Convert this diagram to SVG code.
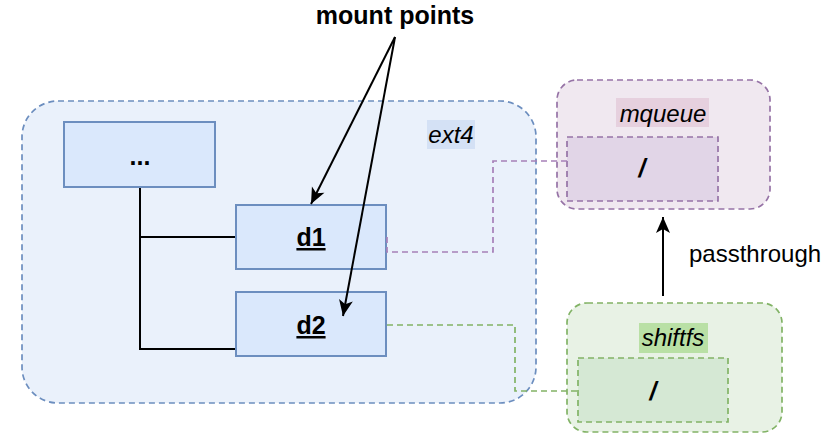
<svg xmlns="http://www.w3.org/2000/svg" width="833" height="435" viewBox="0 0 833 435">
<defs>
<marker id="arr" viewBox="0 0 20 20" refX="18" refY="10" markerWidth="20" markerHeight="20" markerUnits="userSpaceOnUse" orient="auto">
<path d="M2,3 L18,10 L2,17 L6,10 Z" fill="#000"/>
</marker>
</defs>
<style>
text{font-family:"Liberation Sans",Arial,sans-serif;font-size:24px;fill:#000}
.b{font-weight:bold;font-size:25px}
.i{font-style:italic}
.dash{stroke-dasharray:6 4;stroke-width:1.7}
.blue{fill:#dae8fc;stroke:#6c8ebf;stroke-width:2}
.tree{fill:none;stroke:#000;stroke-width:2}
.conn{fill:none;stroke-width:1.7;stroke-dasharray:6 4}
.arrow{fill:none;stroke:#000;stroke-width:2}
</style>
<rect width="833" height="435" fill="#fff"/>

<g id="ext4">
<rect x="22" y="101" width="514" height="302" rx="36" fill="#eaf1fb" stroke="#6c8ebf" class="dash"/>
<rect x="427" y="120" width="48" height="29" fill="#d4e1f5"/>
<text x="451" y="143" text-anchor="middle" class="i">ext4</text>
</g>

<g id="mqueue">
<rect x="557" y="80" width="213" height="129" rx="20" fill="#f0e8f0" stroke="#9673a6" class="dash"/>
<rect x="616" y="98" width="93" height="29" fill="#e6d0de"/>
<text x="663" y="122" text-anchor="middle" class="i" font-size="25">mqueue</text>
</g>
<g id="mqueue-root">
<rect x="567" y="137" width="151" height="64" fill="#e1d5e7" stroke="#9673a6" class="dash"/>
<text x="642" y="177" text-anchor="middle" class="i b">/</text>
</g>

<g id="shiftfs">
<rect x="567" y="303" width="215" height="129" rx="20" fill="#e8f2e5" stroke="#82b366" class="dash"/>
<rect x="639" y="323" width="69" height="30" fill="#b9e0a5"/>
<text x="673" y="346" text-anchor="middle" class="i">shiftfs</text>
</g>
<g id="shiftfs-root">
<rect x="578" y="358" width="150" height="64" fill="#d5e8d4" stroke="#82b366" class="dash"/>
<text x="653" y="400" text-anchor="middle" class="i b">/</text>
</g>

<g id="dots">
<rect x="64" y="122" width="151" height="65" class="blue"/>
<text x="140" y="165" text-anchor="middle" class="b">...</text>
</g>
<g id="d1">
<rect x="236" y="205" width="150" height="64" class="blue"/>
<text x="311" y="246" text-anchor="middle" class="b" text-decoration="underline">d1</text>
</g>
<g id="d2">
<rect x="236" y="292" width="150" height="64" class="blue"/>
<text x="311" y="334" text-anchor="middle" class="b" text-decoration="underline">d2</text>
</g>

<g id="connectors">
<path class="tree" d="M140,188 V349 H235 M140,237 H235"/>
<path class="conn" stroke="#a680b8" d="M387,237 V252 H493 V161 H567"/>
<path class="conn" stroke="#82b366" d="M387,325 H515 V391 H578"/>
<path class="arrow" d="M395,37 L311,204" marker-end="url(#arr)"/>
<path class="arrow" d="M395,37 L343,316" marker-end="url(#arr)"/>
<path class="arrow" d="M663,296 V217" marker-end="url(#arr)"/>
<text x="689" y="262">passthrough</text>
</g>

<g id="label">
<text x="395" y="24" text-anchor="middle" class="b">mount points</text>
</g>
</svg>
